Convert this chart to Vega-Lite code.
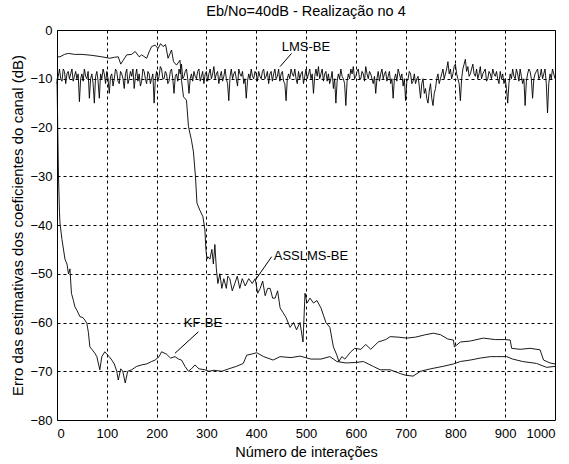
{
  "$schema": "https://vega.github.io/schema/vega-lite/v6.json",
  "width": 498,
  "height": 390,
  "autosize": "none",
  "padding": {"left": 57, "top": 30, "right": 14, "bottom": 44},
  "background": "white",
  "config": {
    "font": "Liberation Sans",
    "view": {"stroke": "black", "strokeWidth": 1},
    "axis": {
      "labelFont": "Liberation Sans", "labelFontSize": 13, "labelColor": "black",
      "titleFont": "Liberation Sans", "titleFontSize": 14, "titleFontWeight": "normal", "titleColor": "black",
      "grid": true, "gridColor": "black", "gridDash": [3, 3], "gridOpacity": 1, "gridWidth": 1,
      "domain": false, "tickSize": 0, "labelPadding": 5
    },
    "title": {"font": "Liberation Sans", "fontSize": 14.5, "fontWeight": "normal", "color": "black"}
  },
  "title": {"text": "Eb/No=40dB - Realização no 4", "offset": 5},
  "datasets": {
    "lines": [
      {"s": "LMS", "x": 0, "y": -11}, {"s": "LMS", "x": 2.5, "y": -9.5}, {"s": "LMS", "x": 5, "y": -8}, {"s": "LMS", "x": 7.5, "y": -10}, {"s": "LMS", "x": 10, "y": -10.5}, {"s": "LMS", "x": 12.5, "y": -8}, {"s": "LMS", "x": 15, "y": -8.5}, {"s": "LMS", "x": 17.5, "y": -11}, {"s": "LMS", "x": 20, "y": -9}, {"s": "LMS", "x": 22.5, "y": -8.5}, {"s": "LMS", "x": 25, "y": -10}, {"s": "LMS", "x": 27.5, "y": -9}, {"s": "LMS", "x": 30, "y": -8}, {"s": "LMS", "x": 32.5, "y": -10.5}, {"s": "LMS", "x": 35, "y": -9.5}, {"s": "LMS", "x": 37.5, "y": -8.5}, {"s": "LMS", "x": 40, "y": -10}, {"s": "LMS", "x": 42.5, "y": -9}, {"s": "LMS", "x": 45, "y": -14.7}, {"s": "LMS", "x": 47.5, "y": -10},
      {"s": "LMS", "x": 50, "y": -9}, {"s": "LMS", "x": 52.5, "y": -10.5}, {"s": "LMS", "x": 55, "y": -8}, {"s": "LMS", "x": 57.5, "y": -9.5}, {"s": "LMS", "x": 60, "y": -10}, {"s": "LMS", "x": 62.5, "y": -8.5}, {"s": "LMS", "x": 65, "y": -14}, {"s": "LMS", "x": 67.5, "y": -10}, {"s": "LMS", "x": 70, "y": -9}, {"s": "LMS", "x": 72.5, "y": -11}, {"s": "LMS", "x": 75, "y": -15}, {"s": "LMS", "x": 77.5, "y": -9.5}, {"s": "LMS", "x": 80, "y": -8.5}, {"s": "LMS", "x": 82.5, "y": -10.5}, {"s": "LMS", "x": 85, "y": -14}, {"s": "LMS", "x": 87.5, "y": -9}, {"s": "LMS", "x": 90, "y": -10}, {"s": "LMS", "x": 92.5, "y": -8}, {"s": "LMS", "x": 95, "y": -9}, {"s": "LMS", "x": 97.5, "y": -11},
      {"s": "LMS", "x": 100, "y": -8.5}, {"s": "LMS", "x": 102.5, "y": -10}, {"s": "LMS", "x": 105, "y": -13}, {"s": "LMS", "x": 107.5, "y": -9.5}, {"s": "LMS", "x": 110, "y": -9}, {"s": "LMS", "x": 112.5, "y": -11.5}, {"s": "LMS", "x": 115, "y": -10}, {"s": "LMS", "x": 117.5, "y": -8}, {"s": "LMS", "x": 120, "y": -8.5}, {"s": "LMS", "x": 122.5, "y": -10.5}, {"s": "LMS", "x": 125, "y": -11}, {"s": "LMS", "x": 127.5, "y": -8.5}, {"s": "LMS", "x": 130, "y": -9}, {"s": "LMS", "x": 132.5, "y": -10}, {"s": "LMS", "x": 135, "y": -12}, {"s": "LMS", "x": 137.5, "y": -9}, {"s": "LMS", "x": 140, "y": -8}, {"s": "LMS", "x": 142.5, "y": -11}, {"s": "LMS", "x": 145, "y": -10}, {"s": "LMS", "x": 147.5, "y": -8.5},
      {"s": "LMS", "x": 150, "y": -9.5}, {"s": "LMS", "x": 152.5, "y": -8}, {"s": "LMS", "x": 155, "y": -12}, {"s": "LMS", "x": 157.5, "y": -9.5}, {"s": "LMS", "x": 160, "y": -8}, {"s": "LMS", "x": 162.5, "y": -10.5}, {"s": "LMS", "x": 165, "y": -9}, {"s": "LMS", "x": 167.5, "y": -11.5}, {"s": "LMS", "x": 170, "y": -10.5}, {"s": "LMS", "x": 172.5, "y": -8}, {"s": "LMS", "x": 175, "y": -8.5}, {"s": "LMS", "x": 177.5, "y": -10}, {"s": "LMS", "x": 180, "y": -11}, {"s": "LMS", "x": 182.5, "y": -8.5}, {"s": "LMS", "x": 185, "y": -9}, {"s": "LMS", "x": 187.5, "y": -11}, {"s": "LMS", "x": 190, "y": -10}, {"s": "LMS", "x": 192.5, "y": -9}, {"s": "LMS", "x": 195, "y": -15}, {"s": "LMS", "x": 197.5, "y": -10},
      {"s": "LMS", "x": 200, "y": -8.5}, {"s": "LMS", "x": 202.5, "y": -10.5}, {"s": "LMS", "x": 205, "y": -9.5}, {"s": "LMS", "x": 207.5, "y": -7.5}, {"s": "LMS", "x": 210, "y": -8}, {"s": "LMS", "x": 212.5, "y": -10}, {"s": "LMS", "x": 215, "y": -10}, {"s": "LMS", "x": 217.5, "y": -8.5}, {"s": "LMS", "x": 220, "y": -9}, {"s": "LMS", "x": 222.5, "y": -11}, {"s": "LMS", "x": 225, "y": -10.5}, {"s": "LMS", "x": 227.5, "y": -8.5}, {"s": "LMS", "x": 230, "y": -8}, {"s": "LMS", "x": 232.5, "y": -10}, {"s": "LMS", "x": 235, "y": -13}, {"s": "LMS", "x": 237.5, "y": -9.5}, {"s": "LMS", "x": 240, "y": -9}, {"s": "LMS", "x": 242.5, "y": -10.5}, {"s": "LMS", "x": 245, "y": -8}, {"s": "LMS", "x": 247.5, "y": -9},
      {"s": "LMS", "x": 250, "y": -7}, {"s": "LMS", "x": 252.5, "y": -10}, {"s": "LMS", "x": 255, "y": -9.5}, {"s": "LMS", "x": 257.5, "y": -8.5}, {"s": "LMS", "x": 260, "y": -8}, {"s": "LMS", "x": 262.5, "y": -10}, {"s": "LMS", "x": 265, "y": -13}, {"s": "LMS", "x": 267.5, "y": -10}, {"s": "LMS", "x": 270, "y": -9}, {"s": "LMS", "x": 272.5, "y": -10.5}, {"s": "LMS", "x": 275, "y": -8.5}, {"s": "LMS", "x": 277.5, "y": -9.5}, {"s": "LMS", "x": 280, "y": -10}, {"s": "LMS", "x": 282.5, "y": -8.5}, {"s": "LMS", "x": 285, "y": -8}, {"s": "LMS", "x": 287.5, "y": -10.5}, {"s": "LMS", "x": 290, "y": -9.5}, {"s": "LMS", "x": 292.5, "y": -8.5}, {"s": "LMS", "x": 295, "y": -11}, {"s": "LMS", "x": 297.5, "y": -9},
      {"s": "LMS", "x": 300, "y": -8.5}, {"s": "LMS", "x": 302.5, "y": -10.5}, {"s": "LMS", "x": 305, "y": -9}, {"s": "LMS", "x": 307.5, "y": -8}, {"s": "LMS", "x": 310, "y": -10}, {"s": "LMS", "x": 312.5, "y": -9}, {"s": "LMS", "x": 315, "y": -7.5}, {"s": "LMS", "x": 317.5, "y": -10}, {"s": "LMS", "x": 320, "y": -9}, {"s": "LMS", "x": 322.5, "y": -8.5}, {"s": "LMS", "x": 325, "y": -11}, {"s": "LMS", "x": 327.5, "y": -9.5}, {"s": "LMS", "x": 330, "y": -8.5}, {"s": "LMS", "x": 332.5, "y": -10.5}, {"s": "LMS", "x": 335, "y": -9.5}, {"s": "LMS", "x": 337.5, "y": -8}, {"s": "LMS", "x": 340, "y": -10}, {"s": "LMS", "x": 342.5, "y": -11}, {"s": "LMS", "x": 345, "y": -14.5}, {"s": "LMS", "x": 347.5, "y": -9.5},
      {"s": "LMS", "x": 350, "y": -8}, {"s": "LMS", "x": 352.5, "y": -10}, {"s": "LMS", "x": 355, "y": -9}, {"s": "LMS", "x": 357.5, "y": -8.5}, {"s": "LMS", "x": 360, "y": -10}, {"s": "LMS", "x": 362.5, "y": -11.5}, {"s": "LMS", "x": 365, "y": -8}, {"s": "LMS", "x": 367.5, "y": -9}, {"s": "LMS", "x": 370, "y": -9.5}, {"s": "LMS", "x": 372.5, "y": -8.5}, {"s": "LMS", "x": 375, "y": -11}, {"s": "LMS", "x": 377.5, "y": -10}, {"s": "LMS", "x": 380, "y": -14}, {"s": "LMS", "x": 382.5, "y": -10.5}, {"s": "LMS", "x": 385, "y": -9}, {"s": "LMS", "x": 387.5, "y": -10}, {"s": "LMS", "x": 390, "y": -8}, {"s": "LMS", "x": 392.5, "y": -9.5}, {"s": "LMS", "x": 395, "y": -10}, {"s": "LMS", "x": 397.5, "y": -8.5},
      {"s": "LMS", "x": 400, "y": -9}, {"s": "LMS", "x": 402.5, "y": -10.5}, {"s": "LMS", "x": 405, "y": -8.5}, {"s": "LMS", "x": 407.5, "y": -9.5}, {"s": "LMS", "x": 410, "y": -10}, {"s": "LMS", "x": 412.5, "y": -8.5}, {"s": "LMS", "x": 415, "y": -8}, {"s": "LMS", "x": 417.5, "y": -10}, {"s": "LMS", "x": 420, "y": -9.5}, {"s": "LMS", "x": 422.5, "y": -8.5}, {"s": "LMS", "x": 425, "y": -11}, {"s": "LMS", "x": 427.5, "y": -9}, {"s": "LMS", "x": 430, "y": -8.5}, {"s": "LMS", "x": 432.5, "y": -10.5}, {"s": "LMS", "x": 435, "y": -9}, {"s": "LMS", "x": 437.5, "y": -8}, {"s": "LMS", "x": 440, "y": -10}, {"s": "LMS", "x": 442.5, "y": -9.5}, {"s": "LMS", "x": 445, "y": -8}, {"s": "LMS", "x": 447.5, "y": -10.5},
      {"s": "LMS", "x": 450, "y": -9}, {"s": "LMS", "x": 452.5, "y": -8.5}, {"s": "LMS", "x": 455, "y": -10.5}, {"s": "LMS", "x": 457.5, "y": -11}, {"s": "LMS", "x": 460, "y": -14.5}, {"s": "LMS", "x": 462.5, "y": -10}, {"s": "LMS", "x": 465, "y": -9}, {"s": "LMS", "x": 467.5, "y": -10}, {"s": "LMS", "x": 470, "y": -8}, {"s": "LMS", "x": 472.5, "y": -9}, {"s": "LMS", "x": 475, "y": -9.5}, {"s": "LMS", "x": 477.5, "y": -8}, {"s": "LMS", "x": 480, "y": -10}, {"s": "LMS", "x": 482.5, "y": -11}, {"s": "LMS", "x": 485, "y": -8.5}, {"s": "LMS", "x": 487.5, "y": -10}, {"s": "LMS", "x": 490, "y": -9}, {"s": "LMS", "x": 492.5, "y": -8.5}, {"s": "LMS", "x": 495, "y": -11}, {"s": "LMS", "x": 497.5, "y": -9.5},
      {"s": "LMS", "x": 500, "y": -8}, {"s": "LMS", "x": 502.5, "y": -10}, {"s": "LMS", "x": 505, "y": -9}, {"s": "LMS", "x": 507.5, "y": -8}, {"s": "LMS", "x": 510, "y": -10}, {"s": "LMS", "x": 512.5, "y": -9}, {"s": "LMS", "x": 515, "y": -13}, {"s": "LMS", "x": 517.5, "y": -9.5}, {"s": "LMS", "x": 520, "y": -8}, {"s": "LMS", "x": 522.5, "y": -9.5}, {"s": "LMS", "x": 525, "y": -7.5}, {"s": "LMS", "x": 527.5, "y": -10}, {"s": "LMS", "x": 530, "y": -9}, {"s": "LMS", "x": 532.5, "y": -8}, {"s": "LMS", "x": 535, "y": -10.5}, {"s": "LMS", "x": 537.5, "y": -9}, {"s": "LMS", "x": 540, "y": -8.5}, {"s": "LMS", "x": 542.5, "y": -10.5}, {"s": "LMS", "x": 545, "y": -9}, {"s": "LMS", "x": 547.5, "y": -11},
      {"s": "LMS", "x": 550, "y": -10}, {"s": "LMS", "x": 552.5, "y": -8.5}, {"s": "LMS", "x": 555, "y": -12}, {"s": "LMS", "x": 557.5, "y": -10}, {"s": "LMS", "x": 560, "y": -15}, {"s": "LMS", "x": 562.5, "y": -10.5}, {"s": "LMS", "x": 565, "y": -9}, {"s": "LMS", "x": 567.5, "y": -10}, {"s": "LMS", "x": 570, "y": -8}, {"s": "LMS", "x": 572.5, "y": -9.5}, {"s": "LMS", "x": 575, "y": -10}, {"s": "LMS", "x": 577.5, "y": -11}, {"s": "LMS", "x": 580, "y": -15.5}, {"s": "LMS", "x": 582.5, "y": -10.5}, {"s": "LMS", "x": 585, "y": -9}, {"s": "LMS", "x": 587.5, "y": -10}, {"s": "LMS", "x": 590, "y": -8}, {"s": "LMS", "x": 592.5, "y": -9}, {"s": "LMS", "x": 595, "y": -7.5}, {"s": "LMS", "x": 597.5, "y": -10},
      {"s": "LMS", "x": 600, "y": -9.5}, {"s": "LMS", "x": 602.5, "y": -8.5}, {"s": "LMS", "x": 605, "y": -8}, {"s": "LMS", "x": 607.5, "y": -10}, {"s": "LMS", "x": 610, "y": -10}, {"s": "LMS", "x": 612.5, "y": -8.5}, {"s": "LMS", "x": 615, "y": -9}, {"s": "LMS", "x": 617.5, "y": -10.5}, {"s": "LMS", "x": 620, "y": -7.5}, {"s": "LMS", "x": 622.5, "y": -9}, {"s": "LMS", "x": 625, "y": -10}, {"s": "LMS", "x": 627.5, "y": -8.5}, {"s": "LMS", "x": 630, "y": -9}, {"s": "LMS", "x": 632.5, "y": -10}, {"s": "LMS", "x": 635, "y": -11}, {"s": "LMS", "x": 637.5, "y": -9.5}, {"s": "LMS", "x": 640, "y": -13}, {"s": "LMS", "x": 642.5, "y": -10}, {"s": "LMS", "x": 645, "y": -8.5}, {"s": "LMS", "x": 647.5, "y": -10.5},
      {"s": "LMS", "x": 650, "y": -9}, {"s": "LMS", "x": 652.5, "y": -8}, {"s": "LMS", "x": 655, "y": -10}, {"s": "LMS", "x": 657.5, "y": -9}, {"s": "LMS", "x": 660, "y": -8.5}, {"s": "LMS", "x": 662.5, "y": -10.5}, {"s": "LMS", "x": 665, "y": -9.5}, {"s": "LMS", "x": 667.5, "y": -8.5}, {"s": "LMS", "x": 670, "y": -11}, {"s": "LMS", "x": 672.5, "y": -10}, {"s": "LMS", "x": 675, "y": -14}, {"s": "LMS", "x": 677.5, "y": -10}, {"s": "LMS", "x": 680, "y": -9}, {"s": "LMS", "x": 682.5, "y": -10.5}, {"s": "LMS", "x": 685, "y": -8}, {"s": "LMS", "x": 687.5, "y": -9}, {"s": "LMS", "x": 690, "y": -10}, {"s": "LMS", "x": 692.5, "y": -9}, {"s": "LMS", "x": 695, "y": -11.5}, {"s": "LMS", "x": 697.5, "y": -10},
      {"s": "LMS", "x": 700, "y": -14.5}, {"s": "LMS", "x": 702.5, "y": -10.5}, {"s": "LMS", "x": 705, "y": -10}, {"s": "LMS", "x": 707.5, "y": -8.5}, {"s": "LMS", "x": 710, "y": -9}, {"s": "LMS", "x": 712.5, "y": -11}, {"s": "LMS", "x": 715, "y": -10.5}, {"s": "LMS", "x": 717.5, "y": -9}, {"s": "LMS", "x": 720, "y": -11}, {"s": "LMS", "x": 722.5, "y": -10}, {"s": "LMS", "x": 725, "y": -9.5}, {"s": "LMS", "x": 727.5, "y": -11.5}, {"s": "LMS", "x": 730, "y": -14}, {"s": "LMS", "x": 732.5, "y": -11}, {"s": "LMS", "x": 735, "y": -10}, {"s": "LMS", "x": 737.5, "y": -13}, {"s": "LMS", "x": 740, "y": -12}, {"s": "LMS", "x": 742.5, "y": -14}, {"s": "LMS", "x": 745, "y": -15}, {"s": "LMS", "x": 747.5, "y": -12.5},
      {"s": "LMS", "x": 750, "y": -11}, {"s": "LMS", "x": 752.5, "y": -14}, {"s": "LMS", "x": 755, "y": -15.5}, {"s": "LMS", "x": 757.5, "y": -13}, {"s": "LMS", "x": 760, "y": -12}, {"s": "LMS", "x": 762.5, "y": -10}, {"s": "LMS", "x": 765, "y": -9}, {"s": "LMS", "x": 767.5, "y": -11}, {"s": "LMS", "x": 770, "y": -10}, {"s": "LMS", "x": 772.5, "y": -9}, {"s": "LMS", "x": 775, "y": -8}, {"s": "LMS", "x": 777.5, "y": -10}, {"s": "LMS", "x": 780, "y": -9}, {"s": "LMS", "x": 782.5, "y": -8}, {"s": "LMS", "x": 785, "y": -6.5}, {"s": "LMS", "x": 787.5, "y": -9}, {"s": "LMS", "x": 790, "y": -8}, {"s": "LMS", "x": 792.5, "y": -10}, {"s": "LMS", "x": 795, "y": -9}, {"s": "LMS", "x": 797.5, "y": -7.5},
      {"s": "LMS", "x": 800, "y": -7}, {"s": "LMS", "x": 802.5, "y": -9}, {"s": "LMS", "x": 805, "y": -10}, {"s": "LMS", "x": 807.5, "y": -11}, {"s": "LMS", "x": 810, "y": -14.5}, {"s": "LMS", "x": 812.5, "y": -10}, {"s": "LMS", "x": 815, "y": -8}, {"s": "LMS", "x": 817.5, "y": -7}, {"s": "LMS", "x": 820, "y": -6}, {"s": "LMS", "x": 822.5, "y": -8.5}, {"s": "LMS", "x": 825, "y": -7.5}, {"s": "LMS", "x": 827.5, "y": -9.5}, {"s": "LMS", "x": 830, "y": -9}, {"s": "LMS", "x": 832.5, "y": -8}, {"s": "LMS", "x": 835, "y": -7}, {"s": "LMS", "x": 837.5, "y": -9}, {"s": "LMS", "x": 840, "y": -9.5}, {"s": "LMS", "x": 842.5, "y": -8}, {"s": "LMS", "x": 845, "y": -10}, {"s": "LMS", "x": 847.5, "y": -9},
      {"s": "LMS", "x": 850, "y": -7.5}, {"s": "LMS", "x": 852.5, "y": -10}, {"s": "LMS", "x": 855, "y": -9}, {"s": "LMS", "x": 857.5, "y": -8.5}, {"s": "LMS", "x": 860, "y": -8}, {"s": "LMS", "x": 862.5, "y": -10.5}, {"s": "LMS", "x": 865, "y": -10}, {"s": "LMS", "x": 867.5, "y": -8.5}, {"s": "LMS", "x": 870, "y": -9}, {"s": "LMS", "x": 872.5, "y": -10}, {"s": "LMS", "x": 875, "y": -8}, {"s": "LMS", "x": 877.5, "y": -9}, {"s": "LMS", "x": 880, "y": -9.5}, {"s": "LMS", "x": 882.5, "y": -8.5}, {"s": "LMS", "x": 885, "y": -10}, {"s": "LMS", "x": 887.5, "y": -11}, {"s": "LMS", "x": 890, "y": -8.5}, {"s": "LMS", "x": 892.5, "y": -10}, {"s": "LMS", "x": 895, "y": -9}, {"s": "LMS", "x": 897.5, "y": -11},
      {"s": "LMS", "x": 900, "y": -10}, {"s": "LMS", "x": 902.5, "y": -12}, {"s": "LMS", "x": 905, "y": -15}, {"s": "LMS", "x": 907.5, "y": -11}, {"s": "LMS", "x": 910, "y": -9}, {"s": "LMS", "x": 912.5, "y": -10}, {"s": "LMS", "x": 915, "y": -8}, {"s": "LMS", "x": 917.5, "y": -9.5}, {"s": "LMS", "x": 920, "y": -10}, {"s": "LMS", "x": 922.5, "y": -8}, {"s": "LMS", "x": 925, "y": -9}, {"s": "LMS", "x": 927.5, "y": -10.5}, {"s": "LMS", "x": 930, "y": -8}, {"s": "LMS", "x": 932.5, "y": -9.5}, {"s": "LMS", "x": 935, "y": -11}, {"s": "LMS", "x": 937.5, "y": -10}, {"s": "LMS", "x": 940, "y": -15.5}, {"s": "LMS", "x": 942.5, "y": -10.5}, {"s": "LMS", "x": 945, "y": -9}, {"s": "LMS", "x": 947.5, "y": -8},
      {"s": "LMS", "x": 950, "y": -8.5}, {"s": "LMS", "x": 952.5, "y": -10}, {"s": "LMS", "x": 955, "y": -14}, {"s": "LMS", "x": 957.5, "y": -10}, {"s": "LMS", "x": 960, "y": -9}, {"s": "LMS", "x": 962.5, "y": -8.5}, {"s": "LMS", "x": 965, "y": -8}, {"s": "LMS", "x": 967.5, "y": -10}, {"s": "LMS", "x": 970, "y": -9.5}, {"s": "LMS", "x": 972.5, "y": -8}, {"s": "LMS", "x": 975, "y": -10}, {"s": "LMS", "x": 977.5, "y": -9}, {"s": "LMS", "x": 980, "y": -8}, {"s": "LMS", "x": 982.5, "y": -11}, {"s": "LMS", "x": 985, "y": -17}, {"s": "LMS", "x": 987.5, "y": -11}, {"s": "LMS", "x": 990, "y": -9}, {"s": "LMS", "x": 992.5, "y": -10}, {"s": "LMS", "x": 995, "y": -8}, {"s": "LMS", "x": 997.5, "y": -9}, {"s": "LMS", "x": 1000, "y": -10},

      {"s": "ASS", "x": 0, "y": -5.5}, {"s": "ASS", "x": 6, "y": -5.5}, {"s": "ASS", "x": 15, "y": -5}, {"s": "ASS", "x": 23, "y": -4.8}, {"s": "ASS", "x": 35, "y": -5}, {"s": "ASS", "x": 50, "y": -5}, {"s": "ASS", "x": 70, "y": -5.2}, {"s": "ASS", "x": 90, "y": -5.5}, {"s": "ASS", "x": 106, "y": -5.8}, {"s": "ASS", "x": 115, "y": -5.6},
      {"s": "ASS", "x": 123, "y": -5.5}, {"s": "ASS", "x": 128, "y": -7}, {"s": "ASS", "x": 133, "y": -6.2}, {"s": "ASS", "x": 140, "y": -5.1}, {"s": "ASS", "x": 150, "y": -5}, {"s": "ASS", "x": 157, "y": -4.4}, {"s": "ASS", "x": 165, "y": -5.5}, {"s": "ASS", "x": 170, "y": -5.1}, {"s": "ASS", "x": 180, "y": -5.8}, {"s": "ASS", "x": 185, "y": -4.5},
      {"s": "ASS", "x": 190, "y": -3.4}, {"s": "ASS", "x": 197, "y": -3.1}, {"s": "ASS", "x": 203, "y": -3.8}, {"s": "ASS", "x": 208, "y": -2.8}, {"s": "ASS", "x": 213, "y": -3.4}, {"s": "ASS", "x": 218, "y": -3}, {"s": "ASS", "x": 223, "y": -5.8}, {"s": "ASS", "x": 230, "y": -4.1}, {"s": "ASS", "x": 234, "y": -6.5}, {"s": "ASS", "x": 240, "y": -7.2},
      {"s": "ASS", "x": 247, "y": -6.2}, {"s": "ASS", "x": 250, "y": -10.3}, {"s": "ASS", "x": 254, "y": -13.7}, {"s": "ASS", "x": 260, "y": -14.4}, {"s": "ASS", "x": 264, "y": -19.8}, {"s": "ASS", "x": 270, "y": -22.6}, {"s": "ASS", "x": 274, "y": -25}, {"s": "ASS", "x": 278, "y": -30}, {"s": "ASS", "x": 281, "y": -35.5}, {"s": "ASS", "x": 287, "y": -37},
      {"s": "ASS", "x": 293, "y": -38.3}, {"s": "ASS", "x": 297, "y": -41}, {"s": "ASS", "x": 299, "y": -45}, {"s": "ASS", "x": 301, "y": -47}, {"s": "ASS", "x": 303, "y": -46.5}, {"s": "ASS", "x": 307, "y": -47}, {"s": "ASS", "x": 311, "y": -45}, {"s": "ASS", "x": 314, "y": -48}, {"s": "ASS", "x": 317, "y": -44}, {"s": "ASS", "x": 320, "y": -49},
      {"s": "ASS", "x": 323, "y": -52}, {"s": "ASS", "x": 327, "y": -50}, {"s": "ASS", "x": 331, "y": -53}, {"s": "ASS", "x": 335, "y": -51}, {"s": "ASS", "x": 340, "y": -53}, {"s": "ASS", "x": 343, "y": -50.5}, {"s": "ASS", "x": 347, "y": -51}, {"s": "ASS", "x": 352, "y": -53.5}, {"s": "ASS", "x": 357, "y": -52}, {"s": "ASS", "x": 362, "y": -50.5},
      {"s": "ASS", "x": 367, "y": -53}, {"s": "ASS", "x": 372, "y": -51}, {"s": "ASS", "x": 378, "y": -52.5}, {"s": "ASS", "x": 385, "y": -51}, {"s": "ASS", "x": 392, "y": -52}, {"s": "ASS", "x": 398, "y": -51}, {"s": "ASS", "x": 403, "y": -54}, {"s": "ASS", "x": 408, "y": -53}, {"s": "ASS", "x": 413, "y": -51.5}, {"s": "ASS", "x": 418, "y": -54.5},
      {"s": "ASS", "x": 423, "y": -53}, {"s": "ASS", "x": 428, "y": -53}, {"s": "ASS", "x": 433, "y": -55}, {"s": "ASS", "x": 438, "y": -55}, {"s": "ASS", "x": 443, "y": -53.5}, {"s": "ASS", "x": 448, "y": -57}, {"s": "ASS", "x": 454, "y": -58}, {"s": "ASS", "x": 460, "y": -59}, {"s": "ASS", "x": 468, "y": -61}, {"s": "ASS", "x": 475, "y": -60},
      {"s": "ASS", "x": 481, "y": -61.5}, {"s": "ASS", "x": 488, "y": -60}, {"s": "ASS", "x": 494, "y": -64}, {"s": "ASS", "x": 498, "y": -54}, {"s": "ASS", "x": 502, "y": -56}, {"s": "ASS", "x": 508, "y": -55}, {"s": "ASS", "x": 515, "y": -56}, {"s": "ASS", "x": 522, "y": -55.5}, {"s": "ASS", "x": 530, "y": -57}, {"s": "ASS", "x": 535, "y": -58.5},
      {"s": "ASS", "x": 540, "y": -60}, {"s": "ASS", "x": 548, "y": -61}, {"s": "ASS", "x": 555, "y": -65}, {"s": "ASS", "x": 562, "y": -66.7}, {"s": "ASS", "x": 566, "y": -68}, {"s": "ASS", "x": 572, "y": -67}, {"s": "ASS", "x": 578, "y": -67.5}, {"s": "ASS", "x": 590, "y": -66}, {"s": "ASS", "x": 598, "y": -65.3}, {"s": "ASS", "x": 610, "y": -65.5},
      {"s": "ASS", "x": 620, "y": -64.5}, {"s": "ASS", "x": 630, "y": -65.5}, {"s": "ASS", "x": 645, "y": -64}, {"s": "ASS", "x": 660, "y": -63.5}, {"s": "ASS", "x": 669, "y": -62.9}, {"s": "ASS", "x": 685, "y": -63}, {"s": "ASS", "x": 702, "y": -63.2}, {"s": "ASS", "x": 720, "y": -63}, {"s": "ASS", "x": 740, "y": -62.5}, {"s": "ASS", "x": 756, "y": -62.2},
      {"s": "ASS", "x": 770, "y": -62.5}, {"s": "ASS", "x": 785, "y": -63.4}, {"s": "ASS", "x": 796, "y": -63.6}, {"s": "ASS", "x": 798, "y": -65}, {"s": "ASS", "x": 810, "y": -64}, {"s": "ASS", "x": 830, "y": -63.8}, {"s": "ASS", "x": 856, "y": -63.2}, {"s": "ASS", "x": 880, "y": -63.5}, {"s": "ASS", "x": 900, "y": -63.5}, {"s": "ASS", "x": 910, "y": -63.6},
      {"s": "ASS", "x": 913, "y": -65.3}, {"s": "ASS", "x": 930, "y": -65.5}, {"s": "ASS", "x": 950, "y": -65.3}, {"s": "ASS", "x": 970, "y": -65.6}, {"s": "ASS", "x": 977, "y": -67.7}, {"s": "ASS", "x": 990, "y": -68.3}, {"s": "ASS", "x": 1000, "y": -68.5},

      {"s": "KF", "x": 0, "y": -10}, {"s": "KF", "x": 3, "y": -30}, {"s": "KF", "x": 5, "y": -37.5}, {"s": "KF", "x": 6, "y": -39.6}, {"s": "KF", "x": 10, "y": -43}, {"s": "KF", "x": 16, "y": -47}, {"s": "KF", "x": 20, "y": -48}, {"s": "KF", "x": 23, "y": -50}, {"s": "KF", "x": 26, "y": -49}, {"s": "KF", "x": 29, "y": -54},
      {"s": "KF", "x": 33, "y": -55.5}, {"s": "KF", "x": 36, "y": -56.8}, {"s": "KF", "x": 40, "y": -57.5}, {"s": "KF", "x": 46, "y": -58.8}, {"s": "KF", "x": 52, "y": -59}, {"s": "KF", "x": 56, "y": -59.5}, {"s": "KF", "x": 60, "y": -60.2}, {"s": "KF", "x": 63, "y": -62}, {"s": "KF", "x": 66, "y": -65}, {"s": "KF", "x": 70, "y": -65.5},
      {"s": "KF", "x": 76, "y": -66.3}, {"s": "KF", "x": 80, "y": -67}, {"s": "KF", "x": 86, "y": -69.7}, {"s": "KF", "x": 90, "y": -67}, {"s": "KF", "x": 96, "y": -66}, {"s": "KF", "x": 100, "y": -66.5}, {"s": "KF", "x": 105, "y": -67}, {"s": "KF", "x": 110, "y": -67.7}, {"s": "KF", "x": 115, "y": -68.5}, {"s": "KF", "x": 120, "y": -70},
      {"s": "KF", "x": 123, "y": -71.8}, {"s": "KF", "x": 128, "y": -69.5}, {"s": "KF", "x": 132, "y": -70}, {"s": "KF", "x": 137, "y": -72.4}, {"s": "KF", "x": 142, "y": -70}, {"s": "KF", "x": 150, "y": -69.7}, {"s": "KF", "x": 160, "y": -69}, {"s": "KF", "x": 170, "y": -68.7}, {"s": "KF", "x": 180, "y": -68.5}, {"s": "KF", "x": 190, "y": -68},
      {"s": "KF", "x": 197, "y": -67.7}, {"s": "KF", "x": 205, "y": -67}, {"s": "KF", "x": 210, "y": -66}, {"s": "KF", "x": 220, "y": -66.5}, {"s": "KF", "x": 228, "y": -67.3}, {"s": "KF", "x": 237, "y": -67}, {"s": "KF", "x": 244, "y": -67.5}, {"s": "KF", "x": 250, "y": -67.7}, {"s": "KF", "x": 257, "y": -69}, {"s": "KF", "x": 264, "y": -70},
      {"s": "KF", "x": 270, "y": -69.5}, {"s": "KF", "x": 277, "y": -68.7}, {"s": "KF", "x": 285, "y": -69.5}, {"s": "KF", "x": 297, "y": -69.7}, {"s": "KF", "x": 305, "y": -70}, {"s": "KF", "x": 315, "y": -69.8}, {"s": "KF", "x": 331, "y": -70}, {"s": "KF", "x": 345, "y": -69.5}, {"s": "KF", "x": 360, "y": -69}, {"s": "KF", "x": 374, "y": -68.4},
      {"s": "KF", "x": 381, "y": -66.7}, {"s": "KF", "x": 390, "y": -66.5}, {"s": "KF", "x": 401, "y": -66.2}, {"s": "KF", "x": 415, "y": -67}, {"s": "KF", "x": 434, "y": -67.7}, {"s": "KF", "x": 448, "y": -67}, {"s": "KF", "x": 470, "y": -67.2}, {"s": "KF", "x": 488, "y": -66.9}, {"s": "KF", "x": 510, "y": -67.5}, {"s": "KF", "x": 530, "y": -67.5},
      {"s": "KF", "x": 548, "y": -67}, {"s": "KF", "x": 562, "y": -68}, {"s": "KF", "x": 580, "y": -68.3}, {"s": "KF", "x": 600, "y": -68.2}, {"s": "KF", "x": 615, "y": -68}, {"s": "KF", "x": 635, "y": -69}, {"s": "KF", "x": 649, "y": -69.7}, {"s": "KF", "x": 669, "y": -69.7}, {"s": "KF", "x": 690, "y": -70.5}, {"s": "KF", "x": 699, "y": -70.8},
      {"s": "KF", "x": 715, "y": -71}, {"s": "KF", "x": 730, "y": -70}, {"s": "KF", "x": 750, "y": -69.5}, {"s": "KF", "x": 775, "y": -69}, {"s": "KF", "x": 796, "y": -68.5}, {"s": "KF", "x": 810, "y": -68}, {"s": "KF", "x": 830, "y": -67.7}, {"s": "KF", "x": 850, "y": -67.3}, {"s": "KF", "x": 870, "y": -67}, {"s": "KF", "x": 883, "y": -67},
      {"s": "KF", "x": 903, "y": -67}, {"s": "KF", "x": 915, "y": -67.5}, {"s": "KF", "x": 935, "y": -68}, {"s": "KF", "x": 963, "y": -68.4}, {"s": "KF", "x": 983, "y": -69.2}, {"s": "KF", "x": 1000, "y": -69}
    ],
    "labels": [
      {"label": "LMS-BE", "x": 500, "y": -3.5},
      {"label": "ASSLMS-BE", "x": 510, "y": -46.4},
      {"label": "KF-BE", "x": 293, "y": -60.1}
    ],
    "arrows": [
      {"x": 471, "y": -4.8, "x2": 448, "y2": -7.5},
      {"x": 431, "y": -46.5, "x2": 401, "y2": -50.9},
      {"x": 284, "y": -61.9, "x2": 237, "y2": -66.3}
    ]
  },
  "layer": [
    {
      "data": {"name": "lines"},
      "mark": {"type": "line", "color": "black", "strokeWidth": 0.9, "interpolate": "linear"},
      "encoding": {
        "x": {"field": "x", "type": "quantitative", "scale": {"domain": [0, 1000], "nice": false}, "axis": {"values": [0, 100, 200, 300, 400, 500, 600, 700, 800, 900, 1000], "format": "d", "labelPadding": 7, "title": "Número de interações", "titleFontSize": 14.5, "titlePadding": 5}},
        "y": {"field": "y", "type": "quantitative", "scale": {"domain": [-80, 0], "nice": false}, "axis": {"values": [-80, -70, -60, -50, -40, -30, -20, -10, 0], "format": "d", "title": "Erro das estimativas dos coeficientes do canal (dB)", "titleFontSize": 15, "titlePadding": 4}},
        "detail": {"field": "s", "type": "nominal"},
        "order": {"field": "x", "type": "quantitative"}
      }
    },
    {
      "data": {"name": "arrows"},
      "mark": {"type": "rule", "color": "black", "strokeWidth": 1},
      "encoding": {
        "x": {"field": "x", "type": "quantitative"},
        "y": {"field": "y", "type": "quantitative"},
        "x2": {"field": "x2"},
        "y2": {"field": "y2"}
      }
    },
    {
      "data": {"name": "labels"},
      "mark": {"type": "text", "font": "Liberation Sans", "fontSize": 13, "color": "black", "align": "center", "baseline": "middle"},
      "encoding": {
        "x": {"field": "x", "type": "quantitative"},
        "y": {"field": "y", "type": "quantitative"},
        "text": {"field": "label"}
      }
    }
  ]
}
